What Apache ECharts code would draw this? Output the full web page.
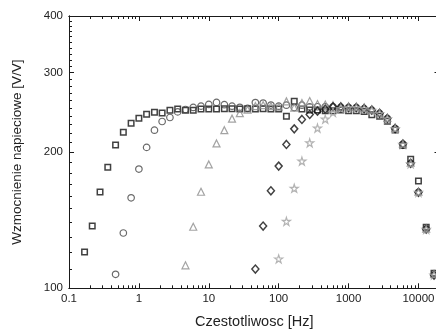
<!DOCTYPE html>
<html><head><meta charset="utf-8">
<script src="https://cdn.jsdelivr.net/npm/echarts@6/dist/echarts.min.js"></script>
<style>html,body{margin:0;padding:0;background:#fff}#c{width:436px;height:331px}</style>
</head><body><div id="c"></div>
<script>
// Frequencies [Hz] (shared measurement grid)
const freqs = [0.1,0.129,0.167,0.215,0.278,0.359,0.464,0.599,0.774,1,1.29,1.67,2.15,2.78,3.59,4.64,5.99,7.74,10,12.9,16.7,21.5,27.8,35.9,46.4,59.9,77.4,100,129,167,215,278,359,464,599,774,1000,1290,1670,2150,2780,3590,4640,5990,7740,10000,12900,16700];
const _ = null;
// Gain [V/V] per series, aligned to freqs
const squares = [_,_,120.3,137.3,163.2,185.3,207.3,221.4,231.8,237.8,242.7,245.2,244,247.7,249,247.7,247.7,249,249,249,249.5,249.5,249,249.5,249,249.5,249,249,240,259,249,248,248,247,247,248,247,247,246,242,240,234,224,207,193,172.6,136.5,108];
const circles = [_,_,_,_,_,_,107.4,132.5,158.5,183.5,204.9,223.7,233.8,238.6,245.5,248.5,251.1,252.8,255,257.6,254.7,252.7,251.3,250,257.4,256.8,254.2,252.7,254,251,254,252,252,252,252,251.5,251,251,249.6,247.7,243.6,237.4,225.6,208.4,188.9,163,135.2,107];
const triangles = [_,_,_,_,_,_,_,_,_,_,_,_,_,_,_,112.4,136.8,163.5,187.9,209.1,223.7,237.2,243.9,248.3,252.8,254.2,252.8,252,259,251,256.8,259.5,255.5,254.8,254,253,252.5,252,251,248.5,244.5,238,226,209,189.5,163.5,135.5,107.5];
const diamonds = [_,_,_,_,_,_,_,_,_,_,_,_,_,_,_,_,_,_,_,_,_,_,_,_,110.3,137.3,164.3,186.3,208,225.2,236.2,242.3,246.4,248.9,251.9,251.5,251,251,249.6,247.7,243.6,237.4,225.6,208.4,188.9,163,135.2,107];
const stars = [_,_,_,_,_,_,_,_,_,_,_,_,_,_,_,_,_,_,_,_,_,_,_,_,_,_,_,116.1,140.6,166.4,191.1,209.7,226,236.6,244.8,249.8,251,251,249.6,247.5,243.5,237,225.5,208,188.5,163,135,107];

// Axis ticks
const xMajor = [0.1,1,10,100,1000,10000];
const xMinor = [0.2,0.3,0.4,0.5,0.6,0.7,0.8,0.9,2,3,4,5,6,7,8,9,20,30,40,50,60,70,80,90,200,300,400,500,600,700,800,900,2000,3000,4000,5000,6000,7000,8000,9000];
const yMajor = [100,200,300,400];
const yMinor = [110,120,130,140,150,160,170,180,190,210,220,230,240,250,260,270,280,290,310,320,330,340,350,360,370,380,390];

const xName = 'Czestotliwosc [Hz]';
const yName = 'Wzmocnienie napieciowe [V/V]';

function pairs(arr){
  const out = [];
  arr.forEach((v,i)=>{ if(v!==null) out.push([freqs[i], v]); });
  return out;
}

const FONT = 'Liberation Sans, Arial, sans-serif';
const AX = '#1a1a1a';
const gridBox = {left:69, top:16, width:370.5, height:272.3, containLabel:false, outerBoundsMode:'none'};

function xAx(grid, pos, ticks, len, labels){
  return {
    type:'log', logBase:10, min:0.1, max:20000, gridIndex:grid, position:pos,
    axisLine:{show:true, lineStyle:{color:AX, width:1}},
    axisTick:{show:true, inside:true, length:len, customValues:ticks, lineStyle:{color:AX, width:1}},
    axisLabel:{show:labels, customValues:ticks, color:'#222', fontSize:11.5, fontFamily:FONT, margin:5,
      formatter:v=>String(+v)},
    splitLine:{show:false}, minorTick:{show:false},
    name: labels ? xName : '', nameLocation:'middle', nameGap:26,
    nameTextStyle:{color:'#222', fontSize:14.5, fontFamily:FONT}
  };
}
function yAx(grid, pos, ticks, len, labels){
  return {
    type:'log', logBase:10, min:100, max:400, gridIndex:grid, position:pos,
    axisLine:{show:true, lineStyle:{color:AX, width:1}},
    axisTick:{show:true, inside:true, length:len, customValues:ticks, lineStyle:{color:AX, width:1}},
    axisLabel:{show:labels, customValues:ticks, color:'#222', fontSize:11.5, fontFamily:FONT, margin:6,
      formatter:v=>String(+v)},
    splitLine:{show:false}, minorTick:{show:false},
    name: labels ? yName : '', nameLocation:'middle', nameGap:45,
    nameTextStyle:{color:'#222', fontSize:13.5, fontFamily:FONT}
  };
}

function sc(name, arr, symbol, size, color, bw){
  return {
    name, type:'scatter', xAxisIndex:0, yAxisIndex:0, data:pairs(arr),
    symbol, symbolSize:size,
    itemStyle:{color:'rgba(255,255,255,0)', borderColor:color, borderWidth:bw},
    emphasis:{disabled:true}, silent:true, animation:false
  };
}

const STAR = 'path://M50,2 L61,36 L97,36 L68,57 L79,92 L50,71 L21,92 L32,57 L3,36 L39,36 Z';

const chart = echarts.init(document.getElementById('c'), null, {renderer:'canvas'});
chart.setOption({
  animation:false,
  backgroundColor:'#fff',
  grid:[Object.assign({}, gridBox), Object.assign({}, gridBox)],
  xAxis:[
    xAx(0,'bottom',xMajor,5,true),
    xAx(0,'top',xMajor,5,false),
    xAx(1,'bottom',xMinor,3,false),
    xAx(1,'top',xMinor,3,false)
  ],
  yAxis:[
    yAx(0,'left',yMajor,5,true),
    yAx(0,'right',yMajor,5,false),
    yAx(1,'left',yMinor,3,false),
    yAx(1,'right',yMinor,3,false)
  ],
  series:[
    sc('squares', squares, 'rect', 5.5, '#111', 1.5),
    sc('circles', circles, 'circle', 6.5, '#444', 1.2),
    sc('triangles', triangles, 'triangle', 7, '#8c8c8c', 1.2),
    sc('diamonds', diamonds, 'diamond', [7,8], '#111', 1.5),
    sc('stars', stars, STAR, 8, '#a0a0a0', 1.2)
  ]
});
</script>
</body></html>
